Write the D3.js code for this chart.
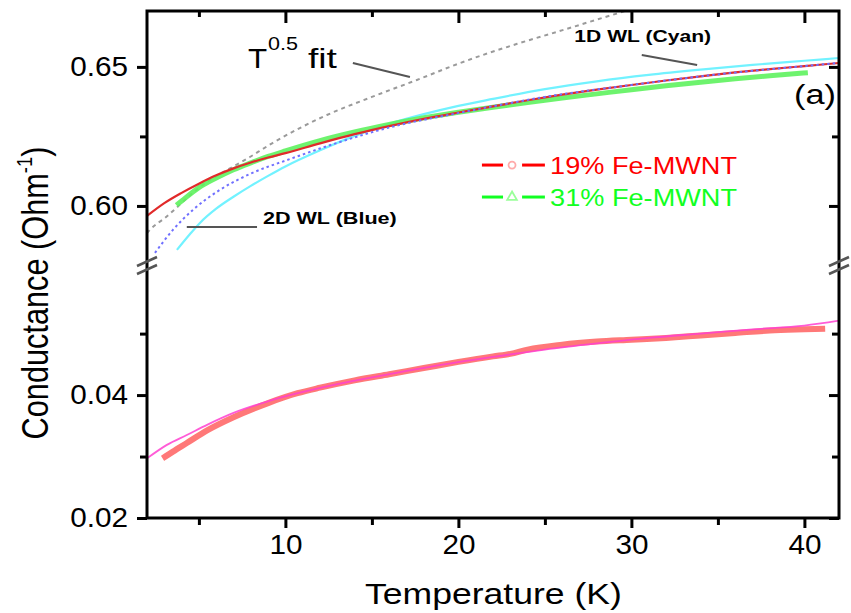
<!DOCTYPE html>
<html>
<head>
<meta charset="utf-8">
<script src="https://cdn.jsdelivr.net/npm/d3@7"></script>
<style>
  body { margin: 0; background: #fff; }
  svg { display: block; }
  text { font-family: "Liberation Sans", Arial, sans-serif; }
</style>
</head>
<body>
<svg id="chart" width="851" height="613"></svg>
<script>
// ---- measured conductance vs temperature (K, 1/Ohm) ----
// 19% Fe-MWNT (upper segment)
const fe19T = [2, 3, 4, 5, 6, 7, 8, 9, 10, 12, 14, 16, 18, 20, 22, 24, 26, 28, 30, 32, 34, 36, 38, 40, 42];
const fe19G = [0.5964, 0.6010, 0.6047, 0.6080, 0.6110, 0.6135, 0.6156, 0.6174, 0.6190, 0.6225, 0.6258, 0.6287,
               0.6313, 0.6336, 0.6358, 0.6380, 0.6400, 0.6418, 0.6435, 0.6451, 0.6466, 0.6480, 0.6492, 0.6503, 0.6514];
// 31% Fe-MWNT (upper segment)
const fe31T = [3.7, 4, 5, 6, 7, 8, 9, 10, 12, 14, 16, 18, 20, 22, 24, 26, 28, 30, 32, 34, 36, 38, 40.2];
const fe31G = [0.6003, 0.6018, 0.6066, 0.6100, 0.6130, 0.6155, 0.6178, 0.6198, 0.6235, 0.6266, 0.6293, 0.6317,
               0.6337, 0.6355, 0.6372, 0.6388, 0.6403, 0.6418, 0.6432, 0.6445, 0.6457, 0.6468, 0.6479];
// 2D weak-localization fit (blue)
const wl2dT = [2.46, 3.5, 4.66, 6.22, 8.1, 10.1, 13, 16, 20, 25, 30, 35, 40, 42];
const wl2dG = [0.5831, 0.5914, 0.5986, 0.6058, 0.6119, 0.6165, 0.6227, 0.6282, 0.6334, 0.6392, 0.6435, 0.6473, 0.6503, 0.6514];
// 1D weak-localization fit (cyan)
const wl1dT = [3.73, 4.5, 5.06, 6, 7, 8, 9, 10, 12, 14, 16, 18, 20, 22, 25, 28, 31, 34, 37, 40, 42];
const wl1dG = [0.5842, 0.5900, 0.5939, 0.5990, 0.6033, 0.6072, 0.6108, 0.6142, 0.6200, 0.6252, 0.6295, 0.6330,
               0.6360, 0.6385, 0.6420, 0.6448, 0.6471, 0.6490, 0.6507, 0.6522, 0.6532];
// T^0.5 fit (grey dashed)
const sqrtFitT = [2.0, 2.17, 3.04, 5, 7.95, 9.28, 12.4, 15, 17.6, 20.1, 23.4, 25.7, 28, 30];
const sqrtFitG = [0.5902, 0.5914, 0.5957, 0.6065, 0.6176, 0.6227, 0.6327, 0.6392, 0.6453, 0.6514, 0.6583, 0.6626, 0.6670, 0.6708];
// lower segment: measured data (salmon) and its fit (magenta)
const lowDataT = [2.9, 3.5, 4.3, 5.5, 7, 9, 10.7, 12, 14, 16, 18, 20, 22, 23, 24, 26, 28, 30, 32, 34, 36, 38, 40, 41.2];
const lowDataG = [0.0297, 0.0308, 0.0322, 0.0343, 0.0364, 0.0387, 0.0403, 0.0412, 0.0424, 0.0434, 0.0444, 0.0454,
                  0.0463, 0.0467, 0.0474, 0.0482, 0.0487, 0.0490, 0.0493, 0.0497, 0.0501, 0.0505, 0.0507, 0.0508];
const lowFitT = [2, 3.15, 4.3, 5.5, 7, 8.9, 10.7, 13, 16, 19, 22, 25, 28, 31, 34, 37, 40, 42];
const lowFitG = [0.0297, 0.0319, 0.0335, 0.0352, 0.0371, 0.0389, 0.0403, 0.0418, 0.0434, 0.0449, 0.0462, 0.0474,
                 0.0484, 0.0493, 0.0500, 0.0507, 0.0513, 0.0521];

// ---- axis ticks ----
const xMajor = [10, 20, 30, 40];
const xMinor = [5, 15, 25, 35];
const upperMajor = [0.60, 0.65];
const upperMinor = [0.625];
const lowerMajor = [0.02, 0.04];
const lowerMinor = [0.03, 0.05];

const legendLabels = ["19% Fe-MWNT", "31% Fe-MWNT"];

// ---- layout ----
const L = 147, R = 839, TOP = 11, BOT = 518, BRK = 266;
const svg = d3.select("#chart");

const x = d3.scaleLinear().domain([2, 42]).range([L, R]);
const yU = d3.scaleLinear().domain([0.5784, 0.6701]).range([BRK, TOP]);
const yL = d3.scaleLinear().domain([0.02, 0.0610]).range([BOT, BRK]);

const zip = (a, b) => a.map((v, i) => [v, b[i]]);

const defs = svg.append("defs");
defs.append("clipPath").attr("id", "clipU").append("rect")
  .attr("x", L).attr("y", TOP).attr("width", R - L).attr("height", BRK - TOP);
defs.append("clipPath").attr("id", "clipL").append("rect")
  .attr("x", L).attr("y", BRK).attr("width", R - L).attr("height", BOT - BRK);

const lineU = d3.line().x(d => x(d[0])).y(d => yU(d[1])).curve(d3.curveMonotoneX);
const lineL = d3.line().x(d => x(d[0])).y(d => yL(d[1])).curve(d3.curveMonotoneX);

// upper segment curves
const gU = svg.append("g").attr("clip-path", "url(#clipU)").attr("fill", "none");
gU.append("path").datum(zip(sqrtFitT, sqrtFitG)).attr("d", lineU)
  .attr("stroke", "#9a9a9a").attr("stroke-width", 2).attr("stroke-dasharray", "4 4");
gU.append("path").datum(zip(wl1dT, wl1dG)).attr("d", lineU)
  .attr("stroke", "#72f2ff").attr("stroke-width", 2.2);
gU.append("path").datum(zip(fe31T, fe31G)).attr("d", lineU)
  .attr("stroke", "#5ef25e").attr("stroke-width", 5).attr("stroke-opacity", 0.9);
gU.append("path").datum(zip(fe19T, fe19G)).attr("d", lineU)
  .attr("stroke", "#e12a2a").attr("stroke-width", 2.2);
gU.append("path").datum(zip(wl2dT, wl2dG)).attr("d", lineU)
  .attr("stroke", "#7070ff").attr("stroke-width", 2).attr("stroke-dasharray", "2.5 3");

// lower segment curves
const gL = svg.append("g").attr("clip-path", "url(#clipL)").attr("fill", "none");
gL.append("path").datum(zip(lowDataT, lowDataG)).attr("d", lineL)
  .attr("stroke", "#ff7878").attr("stroke-width", 6);
gL.append("path").datum(zip(lowFitT, lowFitG)).attr("d", lineL)
  .attr("stroke", "#ff3fd0").attr("stroke-width", 1.8).attr("stroke-opacity", 0.85);

// ---- text helper: places a label and stretches it horizontally to a given width ----
function label(parent, str, px, py, o) {
  const g = parent.append("g").attr("transform", `translate(${px},${py})`);
  const t = g.append("text").text(str)
    .attr("font-size", o.size).attr("font-weight", o.weight || "normal")
    .attr("fill", o.fill || "#000").attr("text-anchor", o.anchor || "start");
  const k = o.width ? o.width / t.node().getComputedTextLength() : (o.k || 1);
  t.attr("transform", `scale(${k},1)`);
  return t;
}
function stretchTicks(sel, k) {
  sel.selectAll(".tick text").each(function () {
    const tx = +this.getAttribute("x") || 0, ty = +this.getAttribute("y") || 0;
    this.setAttribute("x", 0); this.setAttribute("y", 0);
    this.setAttribute("transform", `translate(${tx},${ty}) scale(${k},1)`);
  });
}

// ---- axes ----
function styleAxis(g) {
  g.select(".domain").remove();
  g.selectAll(".tick line").attr("stroke", "#000").attr("stroke-width", 3);
  g.selectAll(".tick text").attr("font-size", 27).attr("fill", "#000")
    .attr("font-family", "'Liberation Sans', Arial, sans-serif");
}
const fmt2 = d3.format(".2f");
const axes = svg.append("g");

const bx = axes.append("g").attr("transform", `translate(0,${BOT})`)
  .call(d3.axisBottom(x).tickValues(xMajor).tickSize(10).tickPadding(7).tickFormat(d3.format("d"))).call(styleAxis);
stretchTicks(bx, 1.1);
axes.append("g").attr("transform", `translate(0,${BOT})`)
  .call(d3.axisBottom(x).tickValues(xMinor).tickSize(7).tickFormat("")).call(styleAxis);
axes.append("g").attr("transform", `translate(0,${TOP})`)
  .call(d3.axisTop(x).tickValues(xMajor).tickSize(-12).tickFormat("")).call(styleAxis);
axes.append("g").attr("transform", `translate(0,${TOP})`)
  .call(d3.axisTop(x).tickValues(xMinor).tickSize(-6).tickFormat("")).call(styleAxis);

const lu = axes.append("g").attr("transform", `translate(${L},0)`)
  .call(d3.axisLeft(yU).tickValues(upperMajor).tickSize(10).tickPadding(9).tickFormat(fmt2)).call(styleAxis);
stretchTicks(lu, 1.1);
axes.append("g").attr("transform", `translate(${L},0)`)
  .call(d3.axisLeft(yU).tickValues(upperMinor).tickSize(7).tickFormat("")).call(styleAxis);
const ll = axes.append("g").attr("transform", `translate(${L},0)`)
  .call(d3.axisLeft(yL).tickValues(lowerMajor).tickSize(10).tickPadding(9).tickFormat(fmt2)).call(styleAxis);
stretchTicks(ll, 1.1);
axes.append("g").attr("transform", `translate(${L},0)`)
  .call(d3.axisLeft(yL).tickValues(lowerMinor).tickSize(7).tickFormat("")).call(styleAxis);

axes.append("g").attr("transform", `translate(${R},0)`)
  .call(d3.axisRight(yU).tickValues(upperMajor).tickSize(-10).tickFormat("")).call(styleAxis);
axes.append("g").attr("transform", `translate(${R},0)`)
  .call(d3.axisRight(yU).tickValues(upperMinor).tickSize(-7).tickFormat("")).call(styleAxis);
axes.append("g").attr("transform", `translate(${R},0)`)
  .call(d3.axisRight(yL).tickValues(lowerMajor).tickSize(-10).tickFormat("")).call(styleAxis);
axes.append("g").attr("transform", `translate(${R},0)`)
  .call(d3.axisRight(yL).tickValues(lowerMinor).tickSize(-7).tickFormat("")).call(styleAxis);

// frame
svg.append("rect").attr("x", L).attr("y", TOP).attr("width", R - L).attr("height", BOT - TOP)
  .attr("fill", "none").attr("stroke", "#000").attr("stroke-width", 3);

// axis-break marks
[L, R].forEach(ax => {
  [-4, 4].forEach(off => {
    svg.append("line")
      .attr("x1", ax - 10).attr("y1", BRK + off + 4)
      .attr("x2", ax + 10).attr("y2", BRK + off - 5)
      .attr("stroke", "#555").attr("stroke-width", 2.5);
  });
});

// ---- annotations ----
const ann = svg.append("g");
const leader = (t1, g1, t2, g2) => ann.append("line")
  .attr("x1", x(t1)).attr("y1", yU(g1)).attr("x2", x(t2)).attr("y2", yU(g2))
  .attr("stroke", "#555").attr("stroke-width", 2);

label(ann, "T", x(7.84), yU(0.6496), { size: 28, k: 1.12 });
label(ann, "0.5", x(9.0), yU(0.6561), { size: 18, width: 30 });
label(ann, "fit", x(11.3), yU(0.6496), { size: 28, width: 29 });
leader(13.9, 0.6514, 17.2, 0.6464);

label(ann, "1D WL (Cyan)", x(26.7), yU(0.6590), { size: 17, weight: "bold", width: 137 });
leader(30.6, 0.6543, 33.8, 0.6507);

label(ann, "2D WL (Blue)", x(8.7), yU(0.5936), { size: 17, weight: "bold", width: 134 });
leader(4.3, 0.5924, 8.36, 0.5924);

label(ann, "(a)", x(39.4), yU(0.6365), { size: 27, width: 42 });

// ---- legend ----
const legColors = ["#ff0000", "#11ff22"];
const legRows = [0.6147, 0.6032];
legendLabels.forEach((name, i) => {
  const yy = yU(legRows[i]);
  ann.append("line").attr("x1", x(21.36)).attr("x2", x(22.58)).attr("y1", yy).attr("y2", yy)
    .attr("stroke", legColors[i]).attr("stroke-width", 3);
  ann.append("line").attr("x1", x(23.68)).attr("x2", x(25.0)).attr("y1", yy).attr("y2", yy)
    .attr("stroke", legColors[i]).attr("stroke-width", 3);
  if (i === 0) {
    ann.append("circle").attr("cx", x(23.1)).attr("cy", yy).attr("r", 3.5)
      .attr("fill", "none").attr("stroke", "#ffaaaa").attr("stroke-width", 1.8);
  } else {
    ann.append("path").attr("d", d3.symbol(d3.symbolTriangle, 40)())
      .attr("transform", `translate(${x(23.1)},${yy})`)
      .attr("fill", "none").attr("stroke", "#99ff99").attr("stroke-width", 1.8);
  }
  label(ann, name, x(25.3), yy + 9, { size: 24, fill: legColors[i], width: 187 });
});

// ---- axis titles ----
label(svg, "Temperature (K)", 365, 604, { size: 29, width: 257 });

const yt = svg.append("g").attr("transform", "translate(48,293) rotate(-90)");
const ytxt = yt.append("text").attr("font-size", 30).attr("text-anchor", "middle").attr("fill", "#000");
ytxt.append("tspan").text("Conductance (Ohm");
ytxt.append("tspan").text("-1").attr("font-size", 18).attr("dy", -13);
ytxt.append("tspan").text(")").attr("dy", 13);
const yk = 293 / ytxt.node().getComputedTextLength();
ytxt.attr("transform", `scale(${yk},1.2)`);
</script>
</body>
</html>
